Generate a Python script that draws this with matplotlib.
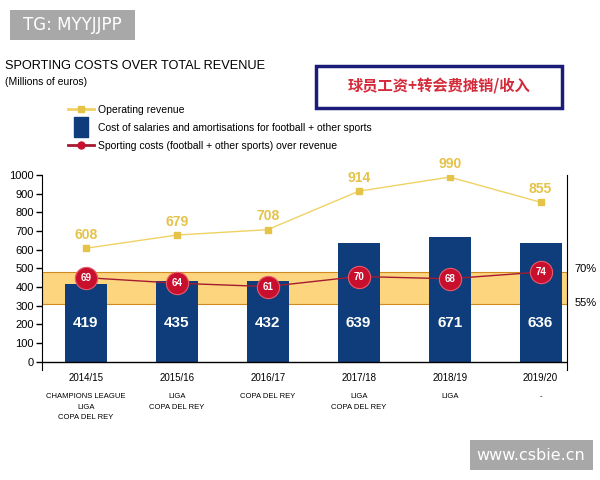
import matplotlib.pyplot as plt
import matplotlib.patches as mpatches
from matplotlib.lines import Line2D
import numpy as np

plt.rcParams['font.family'] = ['Liberation Sans Narrow', 'Liberation Sans', 'DejaVu Sans']

seasons = ['2014/15', '2015/16', '2016/17', '2017/18', '2018/19', '2019/20']
titles = ['CHAMPIONS LEAGUE\nLIGA\nCOPA DEL REY', 'LIGA\nCOPA DEL REY', 'COPA DEL REY',
          'LIGA\nCOPA DEL REY', 'LIGA', '-']
revenue = [608, 679, 708, 914, 990, 855]
salaries = [419, 435, 432, 639, 671, 636]
ratio = [69, 64, 61, 70, 68, 74]
band_pct = (55, 70)
band_vals = (310, 481)   # where the band sits on the money axis

navy = '#0f3d7c'
yellow = '#f0d264'
yellow_txt = '#e5c248'
red = '#c8102e'

fig = plt.figure(figsize=(6, 4.8), dpi=100)
ax = fig.add_axes([0.07, 0.229, 0.875, 0.406])
x = np.arange(len(seasons))

# band
ax.axhspan(band_vals[0], band_vals[1], facecolor='#fcd57e', edgecolor='#d08a20', lw=0.8, zorder=1)

bars = ax.bar(x, salaries, width=0.46, color=navy, zorder=2)
for xi, v in zip(x, salaries):
    ax.text(xi, 210, str(v), color='white', fontsize=11, fontweight='bold', ha='center', va='center', zorder=5)

ax.plot(x, revenue, color=yellow, lw=1, marker='s', ms=4, mfc=yellow_txt, mec=yellow_txt, zorder=3)
for xi, v in zip(x, revenue):
    ax.annotate(str(v), (xi, v), xytext=(0, 9.5), textcoords='offset points', ha='center', va='center',
                color=yellow_txt, fontsize=10, fontweight='bold', annotation_clip=False)

ax.axhline(0, color='k', lw=1, zorder=4)
ax.set_ylim(-45, 1000)
ax.set_xlim(-0.48, 5.29)
ax.set_yticks(np.arange(0, 1001, 100))
ax.tick_params(axis='y', labelsize=8, length=4, width=1, pad=2)
ax.set_xticks(x)
ax.set_xticklabels(seasons, fontsize=7)
ax.tick_params(axis='x', length=0, pad=2)
ax.spines['top'].set_visible(False)
ax.spines['bottom'].set_visible(False)

for xi, t in zip(x, titles):
    ax.annotate(t, (xi, 0), xycoords=('data', 'axes fraction'), xytext=(0, -16.5), textcoords='offset points',
                ha='center', va='top', fontsize=5.5, linespacing=1.75, annotation_clip=False)

# ratio on its own scale
ax2 = ax.twinx()
ax2.set_ylim(-13.6, 160.5)
ax2.axis('off')
ax2.plot(x, ratio, color='#a51a30', lw=1, zorder=3)
ax2.plot(x, ratio, ls='none', marker='o', ms=16, mfc=red, mec='#e85a6a', mew=0.8, zorder=4)
for xi, v in zip(x, ratio):
    ax2.text(xi, v, str(v), color='white', fontsize=7, fontweight='bold', ha='center', va='center', zorder=5)

ax.text(1.015, band_vals[1] + 16, f'{band_pct[1]}%', transform=ax.get_yaxis_transform(), fontsize=8, va='center')
ax.text(1.015, band_vals[0] + 5, f'{band_pct[0]}%', transform=ax.get_yaxis_transform(), fontsize=8, va='center')

# legend
tall = [(-0.36, -0.5), (0.36, -0.5), (0.36, 0.5), (-0.36, 0.5), (-0.36, -0.5)]
handles = [Line2D([], [], color=yellow, lw=2, marker='s', ms=5, mfc=yellow_txt, mec=yellow_txt),
           Line2D([], [], ls='none', marker=tall, ms=14, mfc=navy, mec=navy),
           Line2D([], [], color='#a51a30', lw=2, marker='o', ms=5, mfc=red, mec=red)]
labels = ['Operating revenue', 'Cost of salaries and amortisations for football + other sports',
          'Sporting costs (football + other sports) over revenue']
fig.legend(handles, labels, loc='upper left', bbox_to_anchor=(0.113, 0.781), frameon=False, fontsize=7.5,
           handlelength=2.5, handletextpad=0.4, labelspacing=0.75, borderaxespad=0, borderpad=0)

fig.text(0.008, 1 - 66 / 480, 'SPORTING COSTS OVER TOTAL REVENUE', fontsize=9.2, va='center')
fig.text(0.008, 1 - 82 / 480, '(Millions of euros)', fontsize=7.5, va='center')

# annotation box
fig.patches.append(mpatches.Rectangle((0.527, 0.775), 0.41, 0.0875, transform=fig.transFigure,
                                      fill=False, edgecolor='#1c1c78', lw=2.5))
fig.text(0.732, 1 - 87 / 480, '球员工资+转会费摊销/收入', color='#d42a3a', fontsize=11, fontweight='bold',
         ha='center', va='center', family=['Noto Sans CJK SC', 'DejaVu Sans'])

# watermarks
fig.patches.append(mpatches.Rectangle((10 / 600, 1 - 40 / 480), 125 / 600, 30 / 480, transform=fig.transFigure,
                                      facecolor='#a8a8a8', edgecolor='none'))
fig.text(72 / 600, 1 - 25 / 480, 'TG: MYYJJPP', color='white', fontsize=12, ha='center', va='center',
         family='DejaVu Sans')
fig.patches.append(mpatches.Rectangle((470 / 600, 1 - 470 / 480), 123 / 600, 30 / 480, transform=fig.transFigure,
                                      facecolor='#a8a8a8', edgecolor='none'))
fig.text(531 / 600, 1 - 455 / 480, 'www.csbie.cn', color='white', fontsize=11.5, ha='center', va='center',
         family='DejaVu Sans')

fig.savefig('out.png', dpi=100)
